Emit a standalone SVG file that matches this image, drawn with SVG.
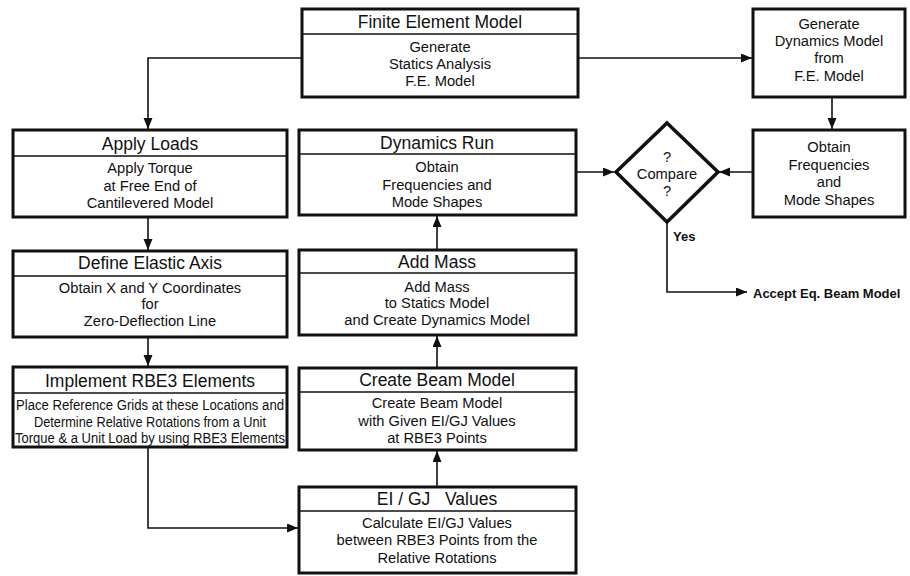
<svg xmlns="http://www.w3.org/2000/svg" width="910" height="576" viewBox="0 0 910 576">
<style>
.box{fill:#fff;stroke:#111;stroke-width:3}
.div{stroke:#111;stroke-width:1.5}
.t{font-family:"Liberation Sans",Arial,sans-serif;font-size:17.5px;fill:#111;text-anchor:middle;dominant-baseline:central}
.b{font-family:"Liberation Sans",Arial,sans-serif;font-size:14.7px;fill:#111;text-anchor:middle;dominant-baseline:central}
.s{font-family:"Liberation Sans",Arial,sans-serif;font-size:13px;font-weight:bold;fill:#111;dominant-baseline:central}
.c{fill:none;stroke:#111;stroke-width:1.6}
</style>
<defs>
<marker id="ah" markerUnits="userSpaceOnUse" markerWidth="12" markerHeight="10" refX="11" refY="4.5" orient="auto">
<path d="M0,0 L11,4.5 L0,9 z" fill="#111"/>
</marker>
</defs>
<rect width="910" height="576" fill="#fff"/>
<g id="connectors">
<polyline class="c" points="302,58 148,58 148,129" marker-end="url(#ah)"/>
<line class="c" x1="578" y1="58" x2="752" y2="58" marker-end="url(#ah)"/>
<line class="c" x1="832" y1="97" x2="832" y2="129" marker-end="url(#ah)"/>
<line class="c" x1="753" y1="172" x2="719" y2="172" marker-end="url(#ah)"/>
<line class="c" x1="577" y1="172" x2="614" y2="172" marker-end="url(#ah)"/>
<polyline class="c" points="667,222 667,292 747,292" marker-end="url(#ah)"/>
<line class="c" x1="148" y1="217" x2="148" y2="250" marker-end="url(#ah)"/>
<line class="c" x1="148" y1="337" x2="148" y2="366" marker-end="url(#ah)"/>
<polyline class="c" points="148,447 148,528 298,528" marker-end="url(#ah)"/>
<line class="c" x1="437" y1="487" x2="437" y2="451" marker-end="url(#ah)"/>
<line class="c" x1="437" y1="368" x2="437" y2="336" marker-end="url(#ah)"/>
<line class="c" x1="437" y1="250" x2="437" y2="216" marker-end="url(#ah)"/>
</g>
<g id="fem">
<rect class="box" x="302" y="9" width="276" height="88"/>
<line class="div" x1="302" y1="34" x2="578" y2="34"/>
<text class="t" x="440" y="22">Finite Element Model</text>
<text class="b" x="440" y="47">Generate</text>
<text class="b" x="440" y="64">Statics Analysis</text>
<text class="b" x="440" y="81">F.E. Model</text>
</g>
<g id="gendyn">
<rect class="box" x="753" y="9" width="152" height="88"/>
<text class="b" x="829" y="24">Generate</text>
<text class="b" x="829" y="41">Dynamics Model</text>
<text class="b" x="829" y="58">from</text>
<text class="b" x="829" y="76">F.E. Model</text>
</g>
<g id="obtain">
<rect class="box" x="753" y="130" width="152" height="87"/>
<text class="b" x="829" y="147">Obtain</text>
<text class="b" x="829" y="165">Frequencies</text>
<text class="b" x="829" y="182">and</text>
<text class="b" x="829" y="200">Mode Shapes</text>
</g>
<g id="compare">
<polygon points="667,123 718,172 667,222 616,172" fill="#fff" stroke="#111" stroke-width="3.5" stroke-linejoin="miter"/>
<text class="b" x="667" y="157">?</text>
<text class="b" x="667" y="174">Compare</text>
<text class="b" x="667" y="191">?</text>
</g>
<g id="yes">
<text class="s" x="673" y="236" font-size="12">Yes</text>
</g>
<g id="accept">
<text class="s" x="753" y="293">Accept Eq. Beam Model</text>
</g>
<g id="applyloads">
<rect class="box" x="13" y="130" width="274" height="87"/>
<line class="div" x1="13" y1="156" x2="287" y2="156"/>
<text class="t" x="150" y="144">Apply Loads</text>
<text class="b" x="150" y="168">Apply Torque</text>
<text class="b" x="150" y="186">at Free End of</text>
<text class="b" x="150" y="203">Cantilevered Model</text>
</g>
<g id="elastic">
<rect class="box" x="13" y="251" width="274" height="86"/>
<line class="div" x1="13" y1="276" x2="287" y2="276"/>
<text class="t" x="150" y="263">Define Elastic Axis</text>
<text class="b" x="150" y="288">Obtain  X and Y  Coordinates</text>
<text class="b" x="150" y="304">for</text>
<text class="b" x="150" y="321">Zero-Deflection Line</text>
</g>
<g id="rbe3">
<rect class="box" x="13" y="367" width="274" height="80"/>
<line class="div" x1="13" y1="393" x2="287" y2="393"/>
<text class="t" x="150" y="381">Implement RBE3 Elements</text>
<text class="b" x="150" y="405" textLength="268" lengthAdjust="spacingAndGlyphs">Place Reference Grids at these Locations and</text>
<text class="b" x="150" y="422" textLength="232" lengthAdjust="spacingAndGlyphs">Determine Relative Rotations from a Unit</text>
<text class="b" x="150" y="438" textLength="270" lengthAdjust="spacingAndGlyphs">Torque &amp; a Unit Load by using RBE3 Elements</text>
</g>
<g id="eigj">
<rect class="box" x="299" y="487" width="277" height="86"/>
<line class="div" x1="299" y1="511" x2="576" y2="511"/>
<text class="t" x="437" y="499" xml:space="preserve">EI / GJ   Values</text>
<text class="b" x="437" y="523">Calculate EI/GJ Values</text>
<text class="b" x="437" y="540">between RBE3 Points from the</text>
<text class="b" x="437" y="558">Relative Rotations</text>
</g>
<g id="beam">
<rect class="box" x="299" y="368" width="277" height="82"/>
<line class="div" x1="299" y1="392" x2="576" y2="392"/>
<text class="t" x="437" y="380">Create Beam Model</text>
<text class="b" x="437" y="403">Create Beam Model</text>
<text class="b" x="437" y="421">with Given EI/GJ Values</text>
<text class="b" x="437" y="438">at RBE3 Points</text>
</g>
<g id="addmass">
<rect class="box" x="299" y="250" width="277" height="85"/>
<line class="div" x1="299" y1="273" x2="576" y2="273"/>
<text class="t" x="437" y="262">Add Mass</text>
<text class="b" x="437" y="287">Add Mass</text>
<text class="b" x="437" y="303">to Statics Model</text>
<text class="b" x="437" y="320">and Create Dynamics Model</text>
</g>
<g id="dynrun">
<rect class="box" x="299" y="130" width="277" height="85"/>
<line class="div" x1="299" y1="154" x2="576" y2="154"/>
<text class="t" x="437" y="143">Dynamics Run</text>
<text class="b" x="437" y="167">Obtain</text>
<text class="b" x="437" y="185">Frequencies and</text>
<text class="b" x="437" y="202">Mode Shapes</text>
</g>
</svg>
